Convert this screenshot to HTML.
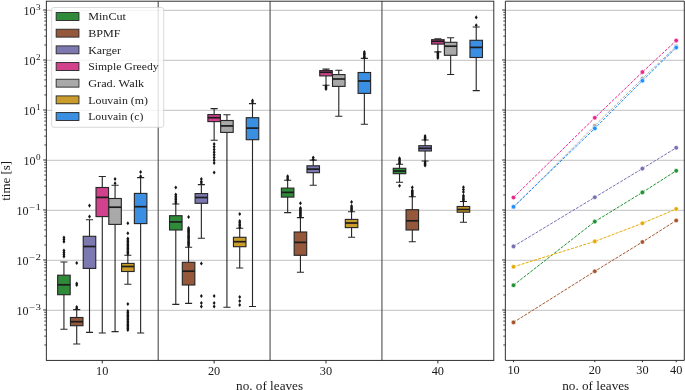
<!DOCTYPE html>
<html><head><meta charset="utf-8"><title>runtime</title>
<style>html,body{margin:0;padding:0;background:#fff;}body{width:685px;height:390px;overflow:hidden;}svg{display:block;will-change:transform;}text{font-family:"Liberation Serif",serif;fill:#1a1a1a;}</style></head><body>
<svg width="685" height="390" viewBox="0 0 685 390">
<rect width="685" height="390" fill="#fff"/>
<g stroke="#b0b0b0" stroke-width="0.8">
<line x1="46.35" x2="493.80" y1="310.30" y2="310.30"/>
<line x1="505.35" x2="684.30" y1="310.30" y2="310.30"/>
<line x1="46.35" x2="493.80" y1="260.30" y2="260.30"/>
<line x1="505.35" x2="684.30" y1="260.30" y2="260.30"/>
<line x1="46.35" x2="493.80" y1="210.30" y2="210.30"/>
<line x1="505.35" x2="684.30" y1="210.30" y2="210.30"/>
<line x1="46.35" x2="493.80" y1="160.30" y2="160.30"/>
<line x1="505.35" x2="684.30" y1="160.30" y2="160.30"/>
<line x1="46.35" x2="493.80" y1="110.30" y2="110.30"/>
<line x1="505.35" x2="684.30" y1="110.30" y2="110.30"/>
<line x1="46.35" x2="493.80" y1="60.30" y2="60.30"/>
<line x1="505.35" x2="684.30" y1="60.30" y2="60.30"/>
<line x1="46.35" x2="493.80" y1="10.30" y2="10.30"/>
<line x1="505.35" x2="684.30" y1="10.30" y2="10.30"/>
</g>
<g stroke="#555555" stroke-width="1.15">
<line x1="158.21" x2="158.21" y1="1.20" y2="360.40"/>
<line x1="270.07" x2="270.07" y1="1.20" y2="360.40"/>
<line x1="381.94" x2="381.94" y1="1.20" y2="360.40"/>
</g>
<g stroke="#262626" stroke-width="1.12" fill="none">
<path d="M63.93 262.00 V275.20 M63.93 294.70 V329.30 M60.38 262.00h7.10 M60.38 329.30h7.10"/>
<rect x="57.66" y="275.20" width="12.53" height="19.50" fill="#2f8a3a"/>
<line x1="57.66" x2="70.19" y1="284.80" y2="284.80" stroke="#1c1c1c" stroke-width="1.7"/>
<path d="M76.71 309.60 V317.50 M76.71 325.70 V344.00 M73.16 309.60h7.10 M73.16 344.00h7.10"/>
<rect x="70.45" y="317.50" width="12.53" height="8.20" fill="#96583b"/>
<line x1="70.45" x2="82.98" y1="321.70" y2="321.70" stroke="#1c1c1c" stroke-width="1.7"/>
<path d="M89.50 219.70 V236.30 M89.50 268.40 V332.40 M85.95 219.70h7.10 M85.95 332.40h7.10"/>
<rect x="83.23" y="236.30" width="12.53" height="32.10" fill="#7c78b0"/>
<line x1="83.23" x2="95.76" y1="246.50" y2="246.50" stroke="#1c1c1c" stroke-width="1.7"/>
<path d="M102.28 176.50 V187.50 M102.28 216.60 V333.00 M98.73 176.50h7.10 M98.73 333.00h7.10"/>
<rect x="96.02" y="187.50" width="12.53" height="29.10" fill="#d2418b"/>
<line x1="96.02" x2="108.55" y1="197.40" y2="197.40" stroke="#1c1c1c" stroke-width="1.7"/>
<path d="M115.07 185.30 V198.50 M115.07 224.40 V331.60 M111.52 185.30h7.10 M111.52 331.60h7.10"/>
<rect x="108.80" y="198.50" width="12.53" height="25.90" fill="#a9a9a9"/>
<line x1="108.80" x2="121.33" y1="207.20" y2="207.20" stroke="#1c1c1c" stroke-width="1.7"/>
<path d="M127.85 255.20 V263.40 M127.85 271.50 V284.20 M124.30 255.20h7.10 M124.30 284.20h7.10"/>
<rect x="121.59" y="263.40" width="12.53" height="8.10" fill="#c99c2c"/>
<line x1="121.59" x2="134.11" y1="266.50" y2="266.50" stroke="#1c1c1c" stroke-width="1.7"/>
<path d="M140.63 177.60 V193.40 M140.63 223.60 V333.00 M137.08 177.60h7.10 M137.08 333.00h7.10"/>
<rect x="134.37" y="193.40" width="12.53" height="30.20" fill="#3a8fe2"/>
<line x1="134.37" x2="146.90" y1="206.70" y2="206.70" stroke="#1c1c1c" stroke-width="1.7"/>
<path d="M175.79 204.00 V215.70 M175.79 230.00 V304.40 M172.24 204.00h7.10 M172.24 304.40h7.10"/>
<rect x="169.53" y="215.70" width="12.53" height="14.30" fill="#2f8a3a"/>
<line x1="169.53" x2="182.06" y1="221.90" y2="221.90" stroke="#1c1c1c" stroke-width="1.7"/>
<path d="M188.58 247.20 V262.30 M188.58 285.00 V303.40 M185.03 247.20h7.10 M185.03 303.40h7.10"/>
<rect x="182.31" y="262.30" width="12.53" height="22.70" fill="#96583b"/>
<line x1="182.31" x2="194.84" y1="271.20" y2="271.20" stroke="#1c1c1c" stroke-width="1.7"/>
<path d="M201.36 184.60 V193.60 M201.36 203.30 V238.30 M197.81 184.60h7.10 M197.81 238.30h7.10"/>
<rect x="195.10" y="193.60" width="12.53" height="9.70" fill="#7c78b0"/>
<line x1="195.10" x2="207.62" y1="197.50" y2="197.50" stroke="#1c1c1c" stroke-width="1.7"/>
<path d="M214.14 108.60 V114.60 M214.14 121.60 V140.30 M210.59 108.60h7.10 M210.59 140.30h7.10"/>
<rect x="207.88" y="114.60" width="12.53" height="7.00" fill="#d2418b"/>
<line x1="207.88" x2="220.41" y1="117.70" y2="117.70" stroke="#1c1c1c" stroke-width="1.7"/>
<path d="M226.93 114.80 V120.50 M226.93 132.40 V307.30 M223.38 114.80h7.10 M223.38 307.30h7.10"/>
<rect x="220.66" y="120.50" width="12.53" height="11.90" fill="#a9a9a9"/>
<line x1="220.66" x2="233.19" y1="125.90" y2="125.90" stroke="#1c1c1c" stroke-width="1.7"/>
<path d="M239.71 228.30 V237.30 M239.71 246.70 V268.00 M236.16 228.30h7.10 M236.16 268.00h7.10"/>
<rect x="233.45" y="237.30" width="12.53" height="9.40" fill="#c99c2c"/>
<line x1="233.45" x2="245.98" y1="241.70" y2="241.70" stroke="#1c1c1c" stroke-width="1.7"/>
<path d="M252.50 103.60 V117.70 M252.50 139.70 V306.50 M248.95 103.60h7.10 M248.95 306.50h7.10"/>
<rect x="246.23" y="117.70" width="12.53" height="22.00" fill="#3a8fe2"/>
<line x1="246.23" x2="258.76" y1="128.10" y2="128.10" stroke="#1c1c1c" stroke-width="1.7"/>
<path d="M287.65 180.20 V188.10 M287.65 197.10 V212.60 M284.10 180.20h7.10 M284.10 212.60h7.10"/>
<rect x="281.39" y="188.10" width="12.53" height="9.00" fill="#2f8a3a"/>
<line x1="281.39" x2="293.92" y1="192.40" y2="192.40" stroke="#1c1c1c" stroke-width="1.7"/>
<path d="M300.44 217.60 V232.00 M300.44 255.30 V272.20 M296.89 217.60h7.10 M296.89 272.20h7.10"/>
<rect x="294.17" y="232.00" width="12.53" height="23.30" fill="#96583b"/>
<line x1="294.17" x2="306.70" y1="242.40" y2="242.40" stroke="#1c1c1c" stroke-width="1.7"/>
<path d="M313.22 160.10 V165.80 M313.22 172.70 V185.20 M309.67 160.10h7.10 M309.67 185.20h7.10"/>
<rect x="306.96" y="165.80" width="12.53" height="6.90" fill="#7c78b0"/>
<line x1="306.96" x2="319.49" y1="169.10" y2="169.10" stroke="#1c1c1c" stroke-width="1.7"/>
<path d="M326.01 69.10 V70.60 M326.01 75.90 V85.20 M322.46 69.10h7.10 M322.46 85.20h7.10"/>
<rect x="319.74" y="70.60" width="12.53" height="5.30" fill="#d2418b"/>
<line x1="319.74" x2="332.27" y1="72.30" y2="72.30" stroke="#1c1c1c" stroke-width="1.7"/>
<path d="M338.79 70.20 V74.60 M338.79 86.40 V116.20 M335.24 70.20h7.10 M335.24 116.20h7.10"/>
<rect x="332.53" y="74.60" width="12.53" height="11.80" fill="#a9a9a9"/>
<line x1="332.53" x2="345.05" y1="79.00" y2="79.00" stroke="#1c1c1c" stroke-width="1.7"/>
<path d="M351.57 211.80 V219.40 M351.57 227.60 V237.30 M348.02 211.80h7.10 M348.02 237.30h7.10"/>
<rect x="345.31" y="219.40" width="12.53" height="8.20" fill="#c99c2c"/>
<line x1="345.31" x2="357.84" y1="223.00" y2="223.00" stroke="#1c1c1c" stroke-width="1.7"/>
<path d="M364.36 58.40 V72.50 M364.36 93.40 V124.20 M360.81 58.40h7.10 M360.81 124.20h7.10"/>
<rect x="358.09" y="72.50" width="12.53" height="20.90" fill="#3a8fe2"/>
<line x1="358.09" x2="370.62" y1="81.00" y2="81.00" stroke="#1c1c1c" stroke-width="1.7"/>
<path d="M399.52 164.30 V168.30 M399.52 173.70 V182.30 M395.97 164.30h7.10 M395.97 182.30h7.10"/>
<rect x="393.25" y="168.30" width="12.53" height="5.40" fill="#2f8a3a"/>
<line x1="393.25" x2="405.78" y1="171.00" y2="171.00" stroke="#1c1c1c" stroke-width="1.7"/>
<path d="M412.30 196.70 V209.70 M412.30 230.00 V241.70 M408.75 196.70h7.10 M408.75 241.70h7.10"/>
<rect x="406.04" y="209.70" width="12.53" height="20.30" fill="#96583b"/>
<line x1="406.04" x2="418.56" y1="220.80" y2="220.80" stroke="#1c1c1c" stroke-width="1.7"/>
<path d="M425.08 140.00 V145.70 M425.08 151.00 V161.00 M421.53 140.00h7.10 M421.53 161.00h7.10"/>
<rect x="418.82" y="145.70" width="12.53" height="5.30" fill="#7c78b0"/>
<line x1="418.82" x2="431.35" y1="148.30" y2="148.30" stroke="#1c1c1c" stroke-width="1.7"/>
<path d="M437.87 38.70 V39.70 M437.87 44.10 V51.90 M434.32 38.70h7.10 M434.32 51.90h7.10"/>
<rect x="431.60" y="39.70" width="12.53" height="4.40" fill="#d2418b"/>
<line x1="431.60" x2="444.13" y1="41.30" y2="41.30" stroke="#1c1c1c" stroke-width="1.7"/>
<path d="M450.65 37.80 V42.30 M450.65 55.30 V74.50 M447.10 37.80h7.10 M447.10 74.50h7.10"/>
<rect x="444.39" y="42.30" width="12.53" height="13.00" fill="#a9a9a9"/>
<line x1="444.39" x2="456.92" y1="46.20" y2="46.20" stroke="#1c1c1c" stroke-width="1.7"/>
<path d="M463.44 201.50 V206.50 M463.44 212.20 V222.30 M459.89 201.50h7.10 M459.89 222.30h7.10"/>
<rect x="457.17" y="206.50" width="12.53" height="5.70" fill="#c99c2c"/>
<line x1="457.17" x2="469.70" y1="209.50" y2="209.50" stroke="#1c1c1c" stroke-width="1.7"/>
<path d="M476.22 27.00 V40.30 M476.22 57.50 V90.60 M472.67 27.00h7.10 M472.67 90.60h7.10"/>
<rect x="469.96" y="40.30" width="12.53" height="17.20" fill="#3a8fe2"/>
<line x1="469.96" x2="482.49" y1="47.40" y2="47.40" stroke="#1c1c1c" stroke-width="1.7"/>
</g>
<g fill="#151515">
<path d="M63.93 235.55l1.45 2.05l-1.45 2.05l-1.45-2.05z"/>
<path d="M63.93 237.35l1.45 2.05l-1.45 2.05l-1.45-2.05z"/>
<path d="M63.93 239.55l1.45 2.05l-1.45 2.05l-1.45-2.05z"/>
<path d="M63.93 248.55l1.45 2.05l-1.45 2.05l-1.45-2.05z"/>
<path d="M63.93 250.55l1.45 2.05l-1.45 2.05l-1.45-2.05z"/>
<path d="M63.93 252.55l1.45 2.05l-1.45 2.05l-1.45-2.05z"/>
<path d="M63.93 254.35l1.45 2.05l-1.45 2.05l-1.45-2.05z"/>
<path d="M76.71 260.95l1.45 2.05l-1.45 2.05l-1.45-2.05z"/>
<path d="M76.71 281.45l1.45 2.05l-1.45 2.05l-1.45-2.05z"/>
<path d="M76.71 282.95l1.45 2.05l-1.45 2.05l-1.45-2.05z"/>
<path d="M76.71 304.95l1.45 2.05l-1.45 2.05l-1.45-2.05z"/>
<path d="M76.71 306.45l1.45 2.05l-1.45 2.05l-1.45-2.05z"/>
<path d="M89.50 203.55l1.45 2.05l-1.45 2.05l-1.45-2.05z"/>
<path d="M89.50 214.55l1.45 2.05l-1.45 2.05l-1.45-2.05z"/>
<path d="M115.07 176.95l1.45 2.05l-1.45 2.05l-1.45-2.05z"/>
<path d="M115.07 181.25l1.45 2.05l-1.45 2.05l-1.45-2.05z"/>
<path d="M127.85 221.25l1.45 2.05l-1.45 2.05l-1.45-2.05z"/>
<path d="M127.85 231.25l1.45 2.05l-1.45 2.05l-1.45-2.05z"/>
<path d="M127.85 236.45l1.45 2.05l-1.45 2.05l-1.45-2.05z"/>
<path d="M127.85 237.86l1.45 2.05l-1.45 2.05l-1.45-2.05z"/>
<path d="M127.85 239.27l1.45 2.05l-1.45 2.05l-1.45-2.05z"/>
<path d="M127.85 240.68l1.45 2.05l-1.45 2.05l-1.45-2.05z"/>
<path d="M127.85 242.09l1.45 2.05l-1.45 2.05l-1.45-2.05z"/>
<path d="M127.85 243.50l1.45 2.05l-1.45 2.05l-1.45-2.05z"/>
<path d="M127.85 244.90l1.45 2.05l-1.45 2.05l-1.45-2.05z"/>
<path d="M127.85 246.31l1.45 2.05l-1.45 2.05l-1.45-2.05z"/>
<path d="M127.85 247.72l1.45 2.05l-1.45 2.05l-1.45-2.05z"/>
<path d="M127.85 249.13l1.45 2.05l-1.45 2.05l-1.45-2.05z"/>
<path d="M127.85 250.54l1.45 2.05l-1.45 2.05l-1.45-2.05z"/>
<path d="M127.85 251.95l1.45 2.05l-1.45 2.05l-1.45-2.05z"/>
<path d="M127.85 301.95l1.45 2.05l-1.45 2.05l-1.45-2.05z"/>
<path d="M127.85 308.95l1.45 2.05l-1.45 2.05l-1.45-2.05z"/>
<path d="M127.85 310.41l1.45 2.05l-1.45 2.05l-1.45-2.05z"/>
<path d="M127.85 311.87l1.45 2.05l-1.45 2.05l-1.45-2.05z"/>
<path d="M127.85 313.33l1.45 2.05l-1.45 2.05l-1.45-2.05z"/>
<path d="M127.85 314.80l1.45 2.05l-1.45 2.05l-1.45-2.05z"/>
<path d="M127.85 316.26l1.45 2.05l-1.45 2.05l-1.45-2.05z"/>
<path d="M127.85 317.72l1.45 2.05l-1.45 2.05l-1.45-2.05z"/>
<path d="M127.85 319.18l1.45 2.05l-1.45 2.05l-1.45-2.05z"/>
<path d="M127.85 320.64l1.45 2.05l-1.45 2.05l-1.45-2.05z"/>
<path d="M127.85 322.10l1.45 2.05l-1.45 2.05l-1.45-2.05z"/>
<path d="M127.85 323.57l1.45 2.05l-1.45 2.05l-1.45-2.05z"/>
<path d="M127.85 325.03l1.45 2.05l-1.45 2.05l-1.45-2.05z"/>
<path d="M127.85 326.49l1.45 2.05l-1.45 2.05l-1.45-2.05z"/>
<path d="M127.85 327.95l1.45 2.05l-1.45 2.05l-1.45-2.05z"/>
<path d="M140.63 169.95l1.45 2.05l-1.45 2.05l-1.45-2.05z"/>
<path d="M140.63 174.15l1.45 2.05l-1.45 2.05l-1.45-2.05z"/>
<path d="M175.79 185.45l1.45 2.05l-1.45 2.05l-1.45-2.05z"/>
<path d="M175.79 192.45l1.45 2.05l-1.45 2.05l-1.45-2.05z"/>
<path d="M175.79 194.15l1.45 2.05l-1.45 2.05l-1.45-2.05z"/>
<path d="M175.79 195.85l1.45 2.05l-1.45 2.05l-1.45-2.05z"/>
<path d="M175.79 197.55l1.45 2.05l-1.45 2.05l-1.45-2.05z"/>
<path d="M175.79 199.25l1.45 2.05l-1.45 2.05l-1.45-2.05z"/>
<path d="M175.79 200.95l1.45 2.05l-1.45 2.05l-1.45-2.05z"/>
<path d="M188.58 214.95l1.45 2.05l-1.45 2.05l-1.45-2.05z"/>
<path d="M188.58 225.95l1.45 2.05l-1.45 2.05l-1.45-2.05z"/>
<path d="M188.58 227.15l1.45 2.05l-1.45 2.05l-1.45-2.05z"/>
<path d="M188.58 228.35l1.45 2.05l-1.45 2.05l-1.45-2.05z"/>
<path d="M188.58 229.55l1.45 2.05l-1.45 2.05l-1.45-2.05z"/>
<path d="M188.58 230.75l1.45 2.05l-1.45 2.05l-1.45-2.05z"/>
<path d="M188.58 231.95l1.45 2.05l-1.45 2.05l-1.45-2.05z"/>
<path d="M188.58 233.15l1.45 2.05l-1.45 2.05l-1.45-2.05z"/>
<path d="M188.58 234.35l1.45 2.05l-1.45 2.05l-1.45-2.05z"/>
<path d="M188.58 235.55l1.45 2.05l-1.45 2.05l-1.45-2.05z"/>
<path d="M188.58 236.75l1.45 2.05l-1.45 2.05l-1.45-2.05z"/>
<path d="M188.58 237.95l1.45 2.05l-1.45 2.05l-1.45-2.05z"/>
<path d="M188.58 239.15l1.45 2.05l-1.45 2.05l-1.45-2.05z"/>
<path d="M188.58 240.35l1.45 2.05l-1.45 2.05l-1.45-2.05z"/>
<path d="M188.58 241.55l1.45 2.05l-1.45 2.05l-1.45-2.05z"/>
<path d="M188.58 242.75l1.45 2.05l-1.45 2.05l-1.45-2.05z"/>
<path d="M188.58 243.95l1.45 2.05l-1.45 2.05l-1.45-2.05z"/>
<path d="M201.36 176.95l1.45 2.05l-1.45 2.05l-1.45-2.05z"/>
<path d="M201.36 179.45l1.45 2.05l-1.45 2.05l-1.45-2.05z"/>
<path d="M201.36 180.95l1.45 2.05l-1.45 2.05l-1.45-2.05z"/>
<path d="M201.36 261.45l1.45 2.05l-1.45 2.05l-1.45-2.05z"/>
<path d="M201.36 293.95l1.45 2.05l-1.45 2.05l-1.45-2.05z"/>
<path d="M201.36 300.95l1.45 2.05l-1.45 2.05l-1.45-2.05z"/>
<path d="M201.36 304.45l1.45 2.05l-1.45 2.05l-1.45-2.05z"/>
<path d="M214.14 141.95l1.45 2.05l-1.45 2.05l-1.45-2.05z"/>
<path d="M214.14 144.66l1.45 2.05l-1.45 2.05l-1.45-2.05z"/>
<path d="M214.14 147.38l1.45 2.05l-1.45 2.05l-1.45-2.05z"/>
<path d="M214.14 150.09l1.45 2.05l-1.45 2.05l-1.45-2.05z"/>
<path d="M214.14 152.81l1.45 2.05l-1.45 2.05l-1.45-2.05z"/>
<path d="M214.14 155.52l1.45 2.05l-1.45 2.05l-1.45-2.05z"/>
<path d="M214.14 158.24l1.45 2.05l-1.45 2.05l-1.45-2.05z"/>
<path d="M214.14 160.95l1.45 2.05l-1.45 2.05l-1.45-2.05z"/>
<path d="M214.14 170.45l1.45 2.05l-1.45 2.05l-1.45-2.05z"/>
<path d="M214.14 293.95l1.45 2.05l-1.45 2.05l-1.45-2.05z"/>
<path d="M214.14 300.95l1.45 2.05l-1.45 2.05l-1.45-2.05z"/>
<path d="M214.14 304.45l1.45 2.05l-1.45 2.05l-1.45-2.05z"/>
<path d="M239.71 211.95l1.45 2.05l-1.45 2.05l-1.45-2.05z"/>
<path d="M239.71 218.95l1.45 2.05l-1.45 2.05l-1.45-2.05z"/>
<path d="M239.71 220.57l1.45 2.05l-1.45 2.05l-1.45-2.05z"/>
<path d="M239.71 222.20l1.45 2.05l-1.45 2.05l-1.45-2.05z"/>
<path d="M239.71 223.82l1.45 2.05l-1.45 2.05l-1.45-2.05z"/>
<path d="M239.71 225.45l1.45 2.05l-1.45 2.05l-1.45-2.05z"/>
<path d="M239.71 294.95l1.45 2.05l-1.45 2.05l-1.45-2.05z"/>
<path d="M239.71 298.95l1.45 2.05l-1.45 2.05l-1.45-2.05z"/>
<path d="M239.71 302.95l1.45 2.05l-1.45 2.05l-1.45-2.05z"/>
<path d="M252.50 98.45l1.45 2.05l-1.45 2.05l-1.45-2.05z"/>
<path d="M252.50 99.95l1.45 2.05l-1.45 2.05l-1.45-2.05z"/>
<path d="M287.65 174.25l1.45 2.05l-1.45 2.05l-1.45-2.05z"/>
<path d="M287.65 175.85l1.45 2.05l-1.45 2.05l-1.45-2.05z"/>
<path d="M287.65 177.45l1.45 2.05l-1.45 2.05l-1.45-2.05z"/>
<path d="M300.44 201.25l1.45 2.05l-1.45 2.05l-1.45-2.05z"/>
<path d="M300.44 205.95l1.45 2.05l-1.45 2.05l-1.45-2.05z"/>
<path d="M300.44 207.07l1.45 2.05l-1.45 2.05l-1.45-2.05z"/>
<path d="M300.44 208.20l1.45 2.05l-1.45 2.05l-1.45-2.05z"/>
<path d="M300.44 209.32l1.45 2.05l-1.45 2.05l-1.45-2.05z"/>
<path d="M300.44 210.45l1.45 2.05l-1.45 2.05l-1.45-2.05z"/>
<path d="M300.44 211.57l1.45 2.05l-1.45 2.05l-1.45-2.05z"/>
<path d="M300.44 212.70l1.45 2.05l-1.45 2.05l-1.45-2.05z"/>
<path d="M300.44 213.82l1.45 2.05l-1.45 2.05l-1.45-2.05z"/>
<path d="M300.44 214.95l1.45 2.05l-1.45 2.05l-1.45-2.05z"/>
<path d="M313.22 155.55l1.45 2.05l-1.45 2.05l-1.45-2.05z"/>
<path d="M313.22 157.45l1.45 2.05l-1.45 2.05l-1.45-2.05z"/>
<path d="M326.01 83.95l1.45 2.05l-1.45 2.05l-1.45-2.05z"/>
<path d="M326.01 84.95l1.45 2.05l-1.45 2.05l-1.45-2.05z"/>
<path d="M326.01 85.95l1.45 2.05l-1.45 2.05l-1.45-2.05z"/>
<path d="M326.01 86.95l1.45 2.05l-1.45 2.05l-1.45-2.05z"/>
<path d="M351.57 199.95l1.45 2.05l-1.45 2.05l-1.45-2.05z"/>
<path d="M351.57 203.95l1.45 2.05l-1.45 2.05l-1.45-2.05z"/>
<path d="M351.57 205.20l1.45 2.05l-1.45 2.05l-1.45-2.05z"/>
<path d="M351.57 206.45l1.45 2.05l-1.45 2.05l-1.45-2.05z"/>
<path d="M351.57 207.70l1.45 2.05l-1.45 2.05l-1.45-2.05z"/>
<path d="M351.57 208.95l1.45 2.05l-1.45 2.05l-1.45-2.05z"/>
<path d="M364.36 49.95l1.45 2.05l-1.45 2.05l-1.45-2.05z"/>
<path d="M364.36 51.33l1.45 2.05l-1.45 2.05l-1.45-2.05z"/>
<path d="M364.36 52.70l1.45 2.05l-1.45 2.05l-1.45-2.05z"/>
<path d="M364.36 54.08l1.45 2.05l-1.45 2.05l-1.45-2.05z"/>
<path d="M364.36 55.45l1.45 2.05l-1.45 2.05l-1.45-2.05z"/>
<path d="M399.52 156.15l1.45 2.05l-1.45 2.05l-1.45-2.05z"/>
<path d="M399.52 157.47l1.45 2.05l-1.45 2.05l-1.45-2.05z"/>
<path d="M399.52 158.80l1.45 2.05l-1.45 2.05l-1.45-2.05z"/>
<path d="M399.52 160.12l1.45 2.05l-1.45 2.05l-1.45-2.05z"/>
<path d="M399.52 161.45l1.45 2.05l-1.45 2.05l-1.45-2.05z"/>
<path d="M399.52 183.75l1.45 2.05l-1.45 2.05l-1.45-2.05z"/>
<path d="M412.30 185.35l1.45 2.05l-1.45 2.05l-1.45-2.05z"/>
<path d="M412.30 188.45l1.45 2.05l-1.45 2.05l-1.45-2.05z"/>
<path d="M412.30 189.55l1.45 2.05l-1.45 2.05l-1.45-2.05z"/>
<path d="M412.30 190.65l1.45 2.05l-1.45 2.05l-1.45-2.05z"/>
<path d="M412.30 191.75l1.45 2.05l-1.45 2.05l-1.45-2.05z"/>
<path d="M412.30 192.85l1.45 2.05l-1.45 2.05l-1.45-2.05z"/>
<path d="M412.30 193.95l1.45 2.05l-1.45 2.05l-1.45-2.05z"/>
<path d="M425.08 133.95l1.45 2.05l-1.45 2.05l-1.45-2.05z"/>
<path d="M425.08 135.12l1.45 2.05l-1.45 2.05l-1.45-2.05z"/>
<path d="M425.08 136.28l1.45 2.05l-1.45 2.05l-1.45-2.05z"/>
<path d="M425.08 137.45l1.45 2.05l-1.45 2.05l-1.45-2.05z"/>
<path d="M425.08 159.95l1.45 2.05l-1.45 2.05l-1.45-2.05z"/>
<path d="M425.08 161.12l1.45 2.05l-1.45 2.05l-1.45-2.05z"/>
<path d="M425.08 162.28l1.45 2.05l-1.45 2.05l-1.45-2.05z"/>
<path d="M425.08 163.45l1.45 2.05l-1.45 2.05l-1.45-2.05z"/>
<path d="M437.87 50.45l1.45 2.05l-1.45 2.05l-1.45-2.05z"/>
<path d="M437.87 51.55l1.45 2.05l-1.45 2.05l-1.45-2.05z"/>
<path d="M437.87 52.65l1.45 2.05l-1.45 2.05l-1.45-2.05z"/>
<path d="M437.87 53.75l1.45 2.05l-1.45 2.05l-1.45-2.05z"/>
<path d="M437.87 54.85l1.45 2.05l-1.45 2.05l-1.45-2.05z"/>
<path d="M437.87 55.95l1.45 2.05l-1.45 2.05l-1.45-2.05z"/>
<path d="M463.44 185.15l1.45 2.05l-1.45 2.05l-1.45-2.05z"/>
<path d="M463.44 187.55l1.45 2.05l-1.45 2.05l-1.45-2.05z"/>
<path d="M463.44 189.95l1.45 2.05l-1.45 2.05l-1.45-2.05z"/>
<path d="M463.44 193.45l1.45 2.05l-1.45 2.05l-1.45-2.05z"/>
<path d="M463.44 194.82l1.45 2.05l-1.45 2.05l-1.45-2.05z"/>
<path d="M463.44 196.20l1.45 2.05l-1.45 2.05l-1.45-2.05z"/>
<path d="M463.44 197.57l1.45 2.05l-1.45 2.05l-1.45-2.05z"/>
<path d="M463.44 198.95l1.45 2.05l-1.45 2.05l-1.45-2.05z"/>
<path d="M476.22 15.35l1.45 2.05l-1.45 2.05l-1.45-2.05z"/>
<path d="M476.22 23.25l1.45 2.05l-1.45 2.05l-1.45-2.05z"/>
</g>
<rect x="51.70" y="7.50" width="112.00" height="119.80" rx="2.2" fill="#fff" fill-opacity="0.8" stroke="#cccccc" stroke-opacity="0.8" stroke-width="0.9"/>
<rect x="56.15" y="12.55" width="22.8" height="7.9" fill="#2f8a3a" stroke="#262626" stroke-width="0.9"/>
<text x="88.2" y="20.30" font-size="11.4" textLength="37.7" lengthAdjust="spacingAndGlyphs">MinCut</text>
<rect x="56.15" y="29.22" width="22.8" height="7.9" fill="#96583b" stroke="#262626" stroke-width="0.9"/>
<text x="88.2" y="36.97" font-size="11.4" textLength="32.3" lengthAdjust="spacingAndGlyphs">BPMF</text>
<rect x="56.15" y="45.89" width="22.8" height="7.9" fill="#7c78b0" stroke="#262626" stroke-width="0.9"/>
<text x="88.2" y="53.64" font-size="11.4" textLength="32.7" lengthAdjust="spacingAndGlyphs">Karger</text>
<rect x="56.15" y="62.56" width="22.8" height="7.9" fill="#d2418b" stroke="#262626" stroke-width="0.9"/>
<text x="88.2" y="70.31" font-size="11.4" textLength="70.5" lengthAdjust="spacingAndGlyphs">Simple Greedy</text>
<rect x="56.15" y="79.23" width="22.8" height="7.9" fill="#a9a9a9" stroke="#262626" stroke-width="0.9"/>
<text x="88.2" y="86.98" font-size="11.4" textLength="56.0" lengthAdjust="spacingAndGlyphs">Grad. Walk</text>
<rect x="56.15" y="95.90" width="22.8" height="7.9" fill="#c99c2c" stroke="#262626" stroke-width="0.9"/>
<text x="88.2" y="103.65" font-size="11.4" textLength="59.8" lengthAdjust="spacingAndGlyphs">Louvain (m)</text>
<rect x="56.15" y="112.57" width="22.8" height="7.9" fill="#3a8fe2" stroke="#262626" stroke-width="0.9"/>
<text x="88.2" y="120.32" font-size="11.4" textLength="55.2" lengthAdjust="spacingAndGlyphs">Louvain (c)</text>
<polyline points="513.5,285.2 594.8,221.6 642.4,192.4 676.2,170.8" fill="none" stroke="#1e9230" stroke-width="1.0" stroke-dasharray="3.0 1.3"/>
<polyline points="513.5,322.4 594.8,271.3 642.4,242.0 676.2,220.5" fill="none" stroke="#a5562d" stroke-width="1.0" stroke-dasharray="3.0 1.3"/>
<polyline points="513.5,246.4 594.8,197.3 642.4,168.6 676.2,147.8" fill="none" stroke="#7570b3" stroke-width="1.0" stroke-dasharray="3.0 1.3"/>
<polyline points="513.5,197.5 594.8,117.8 642.4,72.1 676.2,40.6" fill="none" stroke="#e7298a" stroke-width="1.0" stroke-dasharray="3.0 1.3"/>
<polyline points="513.5,207.4 594.8,125.8 642.4,78.6 676.2,46.4" fill="none" stroke="#a9a9a9" stroke-width="1.0" stroke-dasharray="3.0 1.3"/>
<polyline points="513.5,266.8 594.8,241.4 642.4,223.3 676.2,209.0" fill="none" stroke="#e6ab02" stroke-width="1.0" stroke-dasharray="3.0 1.3"/>
<polyline points="513.5,206.8 594.8,128.4 642.4,80.7 676.2,47.6" fill="none" stroke="#1e90ff" stroke-width="1.0" stroke-dasharray="3.0 1.3"/>
<circle cx="513.5" cy="285.2" r="2.3" fill="#1e9230" stroke="#fff" stroke-width="0.6"/>
<circle cx="594.8" cy="221.6" r="2.3" fill="#1e9230" stroke="#fff" stroke-width="0.6"/>
<circle cx="642.4" cy="192.4" r="2.3" fill="#1e9230" stroke="#fff" stroke-width="0.6"/>
<circle cx="676.2" cy="170.8" r="2.3" fill="#1e9230" stroke="#fff" stroke-width="0.6"/>
<circle cx="513.5" cy="322.4" r="2.3" fill="#a5562d" stroke="#fff" stroke-width="0.6"/>
<circle cx="594.8" cy="271.3" r="2.3" fill="#a5562d" stroke="#fff" stroke-width="0.6"/>
<circle cx="642.4" cy="242.0" r="2.3" fill="#a5562d" stroke="#fff" stroke-width="0.6"/>
<circle cx="676.2" cy="220.5" r="2.3" fill="#a5562d" stroke="#fff" stroke-width="0.6"/>
<circle cx="513.5" cy="246.4" r="2.3" fill="#7570b3" stroke="#fff" stroke-width="0.6"/>
<circle cx="594.8" cy="197.3" r="2.3" fill="#7570b3" stroke="#fff" stroke-width="0.6"/>
<circle cx="642.4" cy="168.6" r="2.3" fill="#7570b3" stroke="#fff" stroke-width="0.6"/>
<circle cx="676.2" cy="147.8" r="2.3" fill="#7570b3" stroke="#fff" stroke-width="0.6"/>
<circle cx="513.5" cy="197.5" r="2.3" fill="#e7298a" stroke="#fff" stroke-width="0.6"/>
<circle cx="594.8" cy="117.8" r="2.3" fill="#e7298a" stroke="#fff" stroke-width="0.6"/>
<circle cx="642.4" cy="72.1" r="2.3" fill="#e7298a" stroke="#fff" stroke-width="0.6"/>
<circle cx="676.2" cy="40.6" r="2.3" fill="#e7298a" stroke="#fff" stroke-width="0.6"/>
<circle cx="513.5" cy="207.4" r="2.3" fill="#a9a9a9" stroke="#fff" stroke-width="0.6"/>
<circle cx="594.8" cy="125.8" r="2.3" fill="#a9a9a9" stroke="#fff" stroke-width="0.6"/>
<circle cx="642.4" cy="78.6" r="2.3" fill="#a9a9a9" stroke="#fff" stroke-width="0.6"/>
<circle cx="676.2" cy="46.4" r="2.3" fill="#a9a9a9" stroke="#fff" stroke-width="0.6"/>
<circle cx="513.5" cy="266.8" r="2.3" fill="#e6ab02" stroke="#fff" stroke-width="0.6"/>
<circle cx="594.8" cy="241.4" r="2.3" fill="#e6ab02" stroke="#fff" stroke-width="0.6"/>
<circle cx="642.4" cy="223.3" r="2.3" fill="#e6ab02" stroke="#fff" stroke-width="0.6"/>
<circle cx="676.2" cy="209.0" r="2.3" fill="#e6ab02" stroke="#fff" stroke-width="0.6"/>
<circle cx="513.5" cy="206.8" r="2.3" fill="#1e90ff" stroke="#fff" stroke-width="0.6"/>
<circle cx="594.8" cy="128.4" r="2.3" fill="#1e90ff" stroke="#fff" stroke-width="0.6"/>
<circle cx="642.4" cy="80.7" r="2.3" fill="#1e90ff" stroke="#fff" stroke-width="0.6"/>
<circle cx="676.2" cy="47.6" r="2.3" fill="#1e90ff" stroke="#fff" stroke-width="0.6"/>
<g fill="none" stroke="#262626" stroke-width="0.95">
<rect x="46.35" y="1.20" width="447.45" height="359.20"/>
<path d="M505.35 1.20H684.30 V360.40 H505.35 Z"/>
</g>
<g stroke="#222" stroke-width="0.95">
<line x1="44.25" x2="46.35" y1="344.95" y2="344.95" stroke-width="0.8"/>
<line x1="44.25" x2="46.35" y1="336.14" y2="336.14" stroke-width="0.8"/>
<line x1="44.25" x2="46.35" y1="329.90" y2="329.90" stroke-width="0.8"/>
<line x1="44.25" x2="46.35" y1="325.05" y2="325.05" stroke-width="0.8"/>
<line x1="44.25" x2="46.35" y1="321.09" y2="321.09" stroke-width="0.8"/>
<line x1="44.25" x2="46.35" y1="317.75" y2="317.75" stroke-width="0.8"/>
<line x1="44.25" x2="46.35" y1="314.85" y2="314.85" stroke-width="0.8"/>
<line x1="44.25" x2="46.35" y1="312.29" y2="312.29" stroke-width="0.8"/>
<line x1="43.15" x2="46.35" y1="310.00" y2="310.00"/>
<line x1="44.25" x2="46.35" y1="294.95" y2="294.95" stroke-width="0.8"/>
<line x1="44.25" x2="46.35" y1="286.14" y2="286.14" stroke-width="0.8"/>
<line x1="44.25" x2="46.35" y1="279.90" y2="279.90" stroke-width="0.8"/>
<line x1="44.25" x2="46.35" y1="275.05" y2="275.05" stroke-width="0.8"/>
<line x1="44.25" x2="46.35" y1="271.09" y2="271.09" stroke-width="0.8"/>
<line x1="44.25" x2="46.35" y1="267.75" y2="267.75" stroke-width="0.8"/>
<line x1="44.25" x2="46.35" y1="264.85" y2="264.85" stroke-width="0.8"/>
<line x1="44.25" x2="46.35" y1="262.29" y2="262.29" stroke-width="0.8"/>
<line x1="43.15" x2="46.35" y1="260.00" y2="260.00"/>
<line x1="44.25" x2="46.35" y1="244.95" y2="244.95" stroke-width="0.8"/>
<line x1="44.25" x2="46.35" y1="236.14" y2="236.14" stroke-width="0.8"/>
<line x1="44.25" x2="46.35" y1="229.90" y2="229.90" stroke-width="0.8"/>
<line x1="44.25" x2="46.35" y1="225.05" y2="225.05" stroke-width="0.8"/>
<line x1="44.25" x2="46.35" y1="221.09" y2="221.09" stroke-width="0.8"/>
<line x1="44.25" x2="46.35" y1="217.75" y2="217.75" stroke-width="0.8"/>
<line x1="44.25" x2="46.35" y1="214.85" y2="214.85" stroke-width="0.8"/>
<line x1="44.25" x2="46.35" y1="212.29" y2="212.29" stroke-width="0.8"/>
<line x1="43.15" x2="46.35" y1="210.00" y2="210.00"/>
<line x1="44.25" x2="46.35" y1="194.95" y2="194.95" stroke-width="0.8"/>
<line x1="44.25" x2="46.35" y1="186.14" y2="186.14" stroke-width="0.8"/>
<line x1="44.25" x2="46.35" y1="179.90" y2="179.90" stroke-width="0.8"/>
<line x1="44.25" x2="46.35" y1="175.05" y2="175.05" stroke-width="0.8"/>
<line x1="44.25" x2="46.35" y1="171.09" y2="171.09" stroke-width="0.8"/>
<line x1="44.25" x2="46.35" y1="167.75" y2="167.75" stroke-width="0.8"/>
<line x1="44.25" x2="46.35" y1="164.85" y2="164.85" stroke-width="0.8"/>
<line x1="44.25" x2="46.35" y1="162.29" y2="162.29" stroke-width="0.8"/>
<line x1="43.15" x2="46.35" y1="160.00" y2="160.00"/>
<line x1="44.25" x2="46.35" y1="144.95" y2="144.95" stroke-width="0.8"/>
<line x1="44.25" x2="46.35" y1="136.14" y2="136.14" stroke-width="0.8"/>
<line x1="44.25" x2="46.35" y1="129.90" y2="129.90" stroke-width="0.8"/>
<line x1="44.25" x2="46.35" y1="125.05" y2="125.05" stroke-width="0.8"/>
<line x1="44.25" x2="46.35" y1="121.09" y2="121.09" stroke-width="0.8"/>
<line x1="44.25" x2="46.35" y1="117.75" y2="117.75" stroke-width="0.8"/>
<line x1="44.25" x2="46.35" y1="114.85" y2="114.85" stroke-width="0.8"/>
<line x1="44.25" x2="46.35" y1="112.29" y2="112.29" stroke-width="0.8"/>
<line x1="43.15" x2="46.35" y1="110.00" y2="110.00"/>
<line x1="44.25" x2="46.35" y1="94.95" y2="94.95" stroke-width="0.8"/>
<line x1="44.25" x2="46.35" y1="86.14" y2="86.14" stroke-width="0.8"/>
<line x1="44.25" x2="46.35" y1="79.90" y2="79.90" stroke-width="0.8"/>
<line x1="44.25" x2="46.35" y1="75.05" y2="75.05" stroke-width="0.8"/>
<line x1="44.25" x2="46.35" y1="71.09" y2="71.09" stroke-width="0.8"/>
<line x1="44.25" x2="46.35" y1="67.75" y2="67.75" stroke-width="0.8"/>
<line x1="44.25" x2="46.35" y1="64.85" y2="64.85" stroke-width="0.8"/>
<line x1="44.25" x2="46.35" y1="62.29" y2="62.29" stroke-width="0.8"/>
<line x1="43.15" x2="46.35" y1="60.00" y2="60.00"/>
<line x1="44.25" x2="46.35" y1="44.95" y2="44.95" stroke-width="0.8"/>
<line x1="44.25" x2="46.35" y1="36.14" y2="36.14" stroke-width="0.8"/>
<line x1="44.25" x2="46.35" y1="29.90" y2="29.90" stroke-width="0.8"/>
<line x1="44.25" x2="46.35" y1="25.05" y2="25.05" stroke-width="0.8"/>
<line x1="44.25" x2="46.35" y1="21.09" y2="21.09" stroke-width="0.8"/>
<line x1="44.25" x2="46.35" y1="17.75" y2="17.75" stroke-width="0.8"/>
<line x1="44.25" x2="46.35" y1="14.85" y2="14.85" stroke-width="0.8"/>
<line x1="44.25" x2="46.35" y1="12.29" y2="12.29" stroke-width="0.8"/>
<line x1="43.15" x2="46.35" y1="10.00" y2="10.00"/>
<line x1="503.25" x2="505.35" y1="344.95" y2="344.95" stroke-width="0.8"/>
<line x1="503.25" x2="505.35" y1="336.14" y2="336.14" stroke-width="0.8"/>
<line x1="503.25" x2="505.35" y1="329.90" y2="329.90" stroke-width="0.8"/>
<line x1="503.25" x2="505.35" y1="325.05" y2="325.05" stroke-width="0.8"/>
<line x1="503.25" x2="505.35" y1="321.09" y2="321.09" stroke-width="0.8"/>
<line x1="503.25" x2="505.35" y1="317.75" y2="317.75" stroke-width="0.8"/>
<line x1="503.25" x2="505.35" y1="314.85" y2="314.85" stroke-width="0.8"/>
<line x1="503.25" x2="505.35" y1="312.29" y2="312.29" stroke-width="0.8"/>
<line x1="502.15" x2="505.35" y1="310.00" y2="310.00"/>
<line x1="503.25" x2="505.35" y1="294.95" y2="294.95" stroke-width="0.8"/>
<line x1="503.25" x2="505.35" y1="286.14" y2="286.14" stroke-width="0.8"/>
<line x1="503.25" x2="505.35" y1="279.90" y2="279.90" stroke-width="0.8"/>
<line x1="503.25" x2="505.35" y1="275.05" y2="275.05" stroke-width="0.8"/>
<line x1="503.25" x2="505.35" y1="271.09" y2="271.09" stroke-width="0.8"/>
<line x1="503.25" x2="505.35" y1="267.75" y2="267.75" stroke-width="0.8"/>
<line x1="503.25" x2="505.35" y1="264.85" y2="264.85" stroke-width="0.8"/>
<line x1="503.25" x2="505.35" y1="262.29" y2="262.29" stroke-width="0.8"/>
<line x1="502.15" x2="505.35" y1="260.00" y2="260.00"/>
<line x1="503.25" x2="505.35" y1="244.95" y2="244.95" stroke-width="0.8"/>
<line x1="503.25" x2="505.35" y1="236.14" y2="236.14" stroke-width="0.8"/>
<line x1="503.25" x2="505.35" y1="229.90" y2="229.90" stroke-width="0.8"/>
<line x1="503.25" x2="505.35" y1="225.05" y2="225.05" stroke-width="0.8"/>
<line x1="503.25" x2="505.35" y1="221.09" y2="221.09" stroke-width="0.8"/>
<line x1="503.25" x2="505.35" y1="217.75" y2="217.75" stroke-width="0.8"/>
<line x1="503.25" x2="505.35" y1="214.85" y2="214.85" stroke-width="0.8"/>
<line x1="503.25" x2="505.35" y1="212.29" y2="212.29" stroke-width="0.8"/>
<line x1="502.15" x2="505.35" y1="210.00" y2="210.00"/>
<line x1="503.25" x2="505.35" y1="194.95" y2="194.95" stroke-width="0.8"/>
<line x1="503.25" x2="505.35" y1="186.14" y2="186.14" stroke-width="0.8"/>
<line x1="503.25" x2="505.35" y1="179.90" y2="179.90" stroke-width="0.8"/>
<line x1="503.25" x2="505.35" y1="175.05" y2="175.05" stroke-width="0.8"/>
<line x1="503.25" x2="505.35" y1="171.09" y2="171.09" stroke-width="0.8"/>
<line x1="503.25" x2="505.35" y1="167.75" y2="167.75" stroke-width="0.8"/>
<line x1="503.25" x2="505.35" y1="164.85" y2="164.85" stroke-width="0.8"/>
<line x1="503.25" x2="505.35" y1="162.29" y2="162.29" stroke-width="0.8"/>
<line x1="502.15" x2="505.35" y1="160.00" y2="160.00"/>
<line x1="503.25" x2="505.35" y1="144.95" y2="144.95" stroke-width="0.8"/>
<line x1="503.25" x2="505.35" y1="136.14" y2="136.14" stroke-width="0.8"/>
<line x1="503.25" x2="505.35" y1="129.90" y2="129.90" stroke-width="0.8"/>
<line x1="503.25" x2="505.35" y1="125.05" y2="125.05" stroke-width="0.8"/>
<line x1="503.25" x2="505.35" y1="121.09" y2="121.09" stroke-width="0.8"/>
<line x1="503.25" x2="505.35" y1="117.75" y2="117.75" stroke-width="0.8"/>
<line x1="503.25" x2="505.35" y1="114.85" y2="114.85" stroke-width="0.8"/>
<line x1="503.25" x2="505.35" y1="112.29" y2="112.29" stroke-width="0.8"/>
<line x1="502.15" x2="505.35" y1="110.00" y2="110.00"/>
<line x1="503.25" x2="505.35" y1="94.95" y2="94.95" stroke-width="0.8"/>
<line x1="503.25" x2="505.35" y1="86.14" y2="86.14" stroke-width="0.8"/>
<line x1="503.25" x2="505.35" y1="79.90" y2="79.90" stroke-width="0.8"/>
<line x1="503.25" x2="505.35" y1="75.05" y2="75.05" stroke-width="0.8"/>
<line x1="503.25" x2="505.35" y1="71.09" y2="71.09" stroke-width="0.8"/>
<line x1="503.25" x2="505.35" y1="67.75" y2="67.75" stroke-width="0.8"/>
<line x1="503.25" x2="505.35" y1="64.85" y2="64.85" stroke-width="0.8"/>
<line x1="503.25" x2="505.35" y1="62.29" y2="62.29" stroke-width="0.8"/>
<line x1="502.15" x2="505.35" y1="60.00" y2="60.00"/>
<line x1="503.25" x2="505.35" y1="44.95" y2="44.95" stroke-width="0.8"/>
<line x1="503.25" x2="505.35" y1="36.14" y2="36.14" stroke-width="0.8"/>
<line x1="503.25" x2="505.35" y1="29.90" y2="29.90" stroke-width="0.8"/>
<line x1="503.25" x2="505.35" y1="25.05" y2="25.05" stroke-width="0.8"/>
<line x1="503.25" x2="505.35" y1="21.09" y2="21.09" stroke-width="0.8"/>
<line x1="503.25" x2="505.35" y1="17.75" y2="17.75" stroke-width="0.8"/>
<line x1="503.25" x2="505.35" y1="14.85" y2="14.85" stroke-width="0.8"/>
<line x1="503.25" x2="505.35" y1="12.29" y2="12.29" stroke-width="0.8"/>
<line x1="502.15" x2="505.35" y1="10.00" y2="10.00"/>
<line x1="102.28" x2="102.28" y1="360.40" y2="363.40"/>
<line x1="214.14" x2="214.14" y1="360.40" y2="363.40"/>
<line x1="326.01" x2="326.01" y1="360.40" y2="363.40"/>
<line x1="437.87" x2="437.87" y1="360.40" y2="363.40"/>
<line x1="513.50" x2="513.50" y1="360.40" y2="362.20"/>
<line x1="594.80" x2="594.80" y1="360.40" y2="362.20"/>
<line x1="642.40" x2="642.40" y1="360.40" y2="362.20"/>
<line x1="676.20" x2="676.20" y1="360.40" y2="362.20"/>
</g>
<text x="96.08" y="375.0" font-size="13.4" textLength="12.3" lengthAdjust="spacingAndGlyphs">10</text>
<text x="507.40" y="373.9" font-size="13.2" textLength="12.3" lengthAdjust="spacingAndGlyphs">10</text>
<text x="207.94" y="375.0" font-size="13.4" textLength="12.3" lengthAdjust="spacingAndGlyphs">20</text>
<text x="588.70" y="373.9" font-size="13.2" textLength="12.3" lengthAdjust="spacingAndGlyphs">20</text>
<text x="319.81" y="375.0" font-size="13.4" textLength="12.3" lengthAdjust="spacingAndGlyphs">30</text>
<text x="636.30" y="373.9" font-size="13.2" textLength="12.3" lengthAdjust="spacingAndGlyphs">30</text>
<text x="431.67" y="375.0" font-size="13.4" textLength="12.3" lengthAdjust="spacingAndGlyphs">40</text>
<text x="670.10" y="373.9" font-size="13.2" textLength="12.3" lengthAdjust="spacingAndGlyphs">40</text>
<text x="16.5" y="314.70" font-size="13.4" textLength="12.1" lengthAdjust="spacingAndGlyphs">10</text>
<text x="29.3" y="310.30" font-size="8.8" textLength="11.6" lengthAdjust="spacingAndGlyphs">−3</text>
<text x="16.5" y="264.70" font-size="13.4" textLength="12.1" lengthAdjust="spacingAndGlyphs">10</text>
<text x="29.3" y="260.30" font-size="8.8" textLength="11.6" lengthAdjust="spacingAndGlyphs">−2</text>
<text x="16.5" y="214.70" font-size="13.4" textLength="12.1" lengthAdjust="spacingAndGlyphs">10</text>
<text x="29.3" y="210.30" font-size="8.8" textLength="11.6" lengthAdjust="spacingAndGlyphs">−1</text>
<text x="23.5" y="164.70" font-size="13.4" textLength="12.1" lengthAdjust="spacingAndGlyphs">10</text>
<text x="36.1" y="160.30" font-size="8.8" textLength="4.6" lengthAdjust="spacingAndGlyphs">0</text>
<text x="23.5" y="114.70" font-size="13.4" textLength="12.1" lengthAdjust="spacingAndGlyphs">10</text>
<text x="36.1" y="110.30" font-size="8.8" textLength="4.6" lengthAdjust="spacingAndGlyphs">1</text>
<text x="23.5" y="64.70" font-size="13.4" textLength="12.1" lengthAdjust="spacingAndGlyphs">10</text>
<text x="36.1" y="60.30" font-size="8.8" textLength="4.6" lengthAdjust="spacingAndGlyphs">2</text>
<text x="23.5" y="14.70" font-size="13.4" textLength="12.1" lengthAdjust="spacingAndGlyphs">10</text>
<text x="36.1" y="10.30" font-size="8.8" textLength="4.6" lengthAdjust="spacingAndGlyphs">3</text>
<text x="269.57" y="390.1" font-size="12.6" text-anchor="middle" textLength="67" lengthAdjust="spacingAndGlyphs">no. of leaves</text>
<text x="595.73" y="390.1" font-size="12.6" text-anchor="middle" textLength="67" lengthAdjust="spacingAndGlyphs">no. of leaves</text>
<text transform="translate(10.1 180.80) rotate(-90)" font-size="12.6" text-anchor="middle" textLength="40" lengthAdjust="spacingAndGlyphs">time [s]</text>
</svg></body></html>
